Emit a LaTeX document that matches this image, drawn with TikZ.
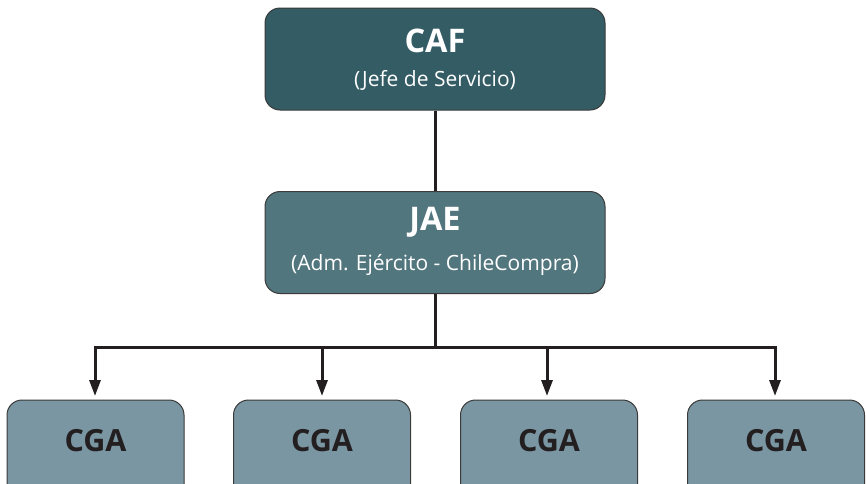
\documentclass[tikz,border=0pt]{standalone}
\usepackage{fontspec}
\setmainfont{Open Sans}
\usetikzlibrary{arrows.meta}
\definecolor{cafcol}{HTML}{345C65}
\definecolor{jaecol}{HTML}{52767E}
\definecolor{cgacol}{HTML}{7A96A3}
\definecolor{edgecol}{HTML}{3A3A3A}
\definecolor{inkcol}{HTML}{231F20}
\tikzset{
  unitbox/.style={draw=edgecol, line width=1pt, rounded corners=15pt, minimum width=340pt, minimum height=102pt, inner sep=0pt, text=white, align=center},
  cgabox/.style={draw=edgecol, line width=1pt, rounded corners=15pt, fill=cgacol, minimum width=177pt, minimum height=100pt, inner sep=0pt},
  title/.style={font=\bfseries\fontsize{32.5}{35}\selectfont},
  sub/.style={font=\fontsize{21}{24}\selectfont},
  link/.style={draw=inkcol, line width=3pt},
  arrowlink/.style={link, -{Triangle[width=11pt,length=16pt]}, shorten >=4pt}
}
\begin{document}
\begin{tikzpicture}[x=1pt, y=-1pt]
  \useasboundingbox (0,0) rectangle (866,483);
  \clip (0,0) rectangle (866,483);
  % upper units
  \node[unitbox, fill=cafcol] (caf) at (435,59) {};
  \node[title, text=white] at (435,41) {CAF};
  \node[sub, text=white] at (435,80) {(Jefe de Servicio)};
  \node[unitbox, fill=jaecol] (jae) at (435,242.5) {};
  \node[title, text=white] at (435,222) {JAE};
  \node[sub, text=white] at (435,265) {(Adm. Ejército - ChileCompra)};
  % lower units
  \node[cgabox] (g1) at (95.5,450) {};
  \node[cgabox] (g2) at (322,450) {};
  \node[cgabox] (g3) at (549,450) {};
  \node[cgabox] (g4) at (776,450) {};
  \foreach \g in {g1,g2,g3,g4}
    \node[title, text=inkcol, font=\bfseries\fontsize{30.5}{33}\selectfont] at ([yshift=9pt]\g.center) {CGA};
  % connectors
  \coordinate (bus) at (435,347);
  \draw[link] (caf.south) -- (jae.north);
  \draw[link] (jae.south) -- (bus);
  \draw[link, line cap=rect] (95,347) -- (775,347);
  \draw[arrowlink] (95,347) -- (95,400);
  \draw[arrowlink] (322,347) -- (322,400);
  \draw[arrowlink] (547,347) -- (547,400);
  \draw[arrowlink] (775,347) -- (775,400);
\end{tikzpicture}
\end{document}
